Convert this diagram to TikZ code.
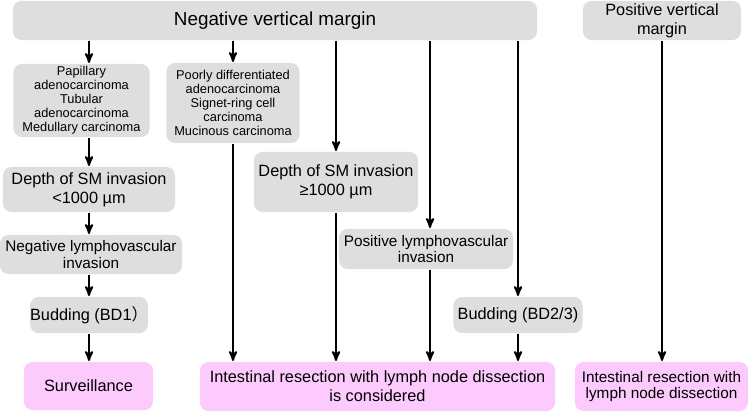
\documentclass[tikz,border=0pt]{standalone}
\usepackage{fontspec}
\setmainfont{Liberation Sans}
\newfontfamily\cjk{Noto Sans CJK SC}
\usetikzlibrary{arrows}
\definecolor{boxgray}{RGB}{222,222,222}
\definecolor{boxpink}{RGB}{252,202,252}
\tikzset{
->, % every connector is an arrow
>=stealth', % arrow heads
every node/.style={inner sep=0pt, align=center},
graybox/.style={fill=boxgray, rounded corners=6pt}, % grey decision boxes
pinkbox/.style={fill=boxpink, rounded corners=6pt}, % pink outcome boxes
head text/.style={font=\fontsize{13.4}{16}\selectfont},
main text/.style={font=\fontsize{11.6}{13.6}\selectfont},
small text/.style={font=\fontsize{10.9}{11.8}\selectfont},
tiny text/.style={font=\fontsize{9.1}{9.9}\selectfont},
}

\begin{document}
\begin{tikzpicture}[x=0.025cm, y=-0.025cm, line width=1.4pt]
    \useasboundingbox (0,0) rectangle (749,412);

    % margins
    \node[graybox, head text, minimum width=13.1cm, minimum height=0.975cm] (neg) at (275,20.5) {Negative vertical margin};
    \node[graybox, main text, minimum width=3.95cm, minimum height=0.975cm] (pos) at (662,20.5) {Positive vertical\\margin};

    % negative margin, left branch
    \node[graybox, tiny text, minimum width=3.4cm, minimum height=1.825cm] (pap) at (81.5,100.5) {Papillary\\adenocarcinoma\\Tubular\\adenocarcinoma\\Medullary carcinoma};
    \node[graybox, main text, minimum width=4.3cm, minimum height=1.125cm] (dlo) at (89,189.5) {Depth of SM invasion\\<1000 µm};
    \node[graybox, small text, minimum width=4.55cm, minimum height=0.975cm] (nlv) at (91,254.5) {Negative lymphovascular\\invasion};
    \node[graybox, main text, minimum width=2.9cm, minimum height=0.9cm] (bd1) at (89,315) {Budding (BD1{\cjk ）}};
    \node[pinkbox, main text, minimum width=3.225cm, minimum height=1.2cm] (surv) at (88.5,386) {Surveillance};

    % negative margin, risk factors
    \node[graybox, tiny text, minimum width=3.325cm, minimum height=2cm] (por) at (233,103) {Poorly differentiated\\adenocarcinoma\\Signet-ring cell\\carcinoma\\Mucinous carcinoma};
    \node[graybox, main text, minimum width=4.1cm, minimum height=1.5cm] (dhi) at (336,182) {Depth of SM invasion\\≥1000 µm};
    \node[graybox, small text, minimum width=4.35cm, minimum height=1cm] (plv) at (426,249) {Positive lymphovascular\\invasion};
    \node[graybox, main text, minimum width=3.225cm, minimum height=0.9cm] (bd2) at (518,315) {Budding (BD2/3)};
    \node[pinkbox, main text, minimum width=8.875cm, minimum height=1.225cm] (cons) at (377.5,386.5) {Intestinal resection with lymph node dissection\\is considered};

    % positive margin
    \node[pinkbox, small text, minimum width=4.325cm, minimum height=1.225cm] (res) at (661.5,386.5) {Intestinal resection with\\lymph node dissection};

    \coordinate (plvtop) at ([xshift=0.1cm]plv.north);
    \coordinate (plvbot) at ([xshift=0.1cm]plv.south);

    \path
    (dlo.north |- neg.south) edge (pap.north -| dlo.north)
    (pap.south -| dlo.north) edge (dlo.north)
    (dlo.south) edge (nlv.north -| dlo.south)
    (nlv.south -| bd1.north) edge (bd1.north)
    (bd1.south) edge (surv.north -| bd1.south)
    (por.north |- neg.south) edge (por.north)
    (por.south) edge (cons.north -| por.south)
    (dhi.north |- neg.south) edge (dhi.north)
    (dhi.south) edge (cons.north -| dhi.south)
    (plvtop |- neg.south) edge (plvtop)
    (plvbot) edge (cons.north -| plvbot)
    (bd2.north |- neg.south) edge (bd2.north)
    (bd2.south) edge (cons.north -| bd2.south)
    (pos.south) edge (res.north -| pos.south);
\end{tikzpicture}
\end{document}
